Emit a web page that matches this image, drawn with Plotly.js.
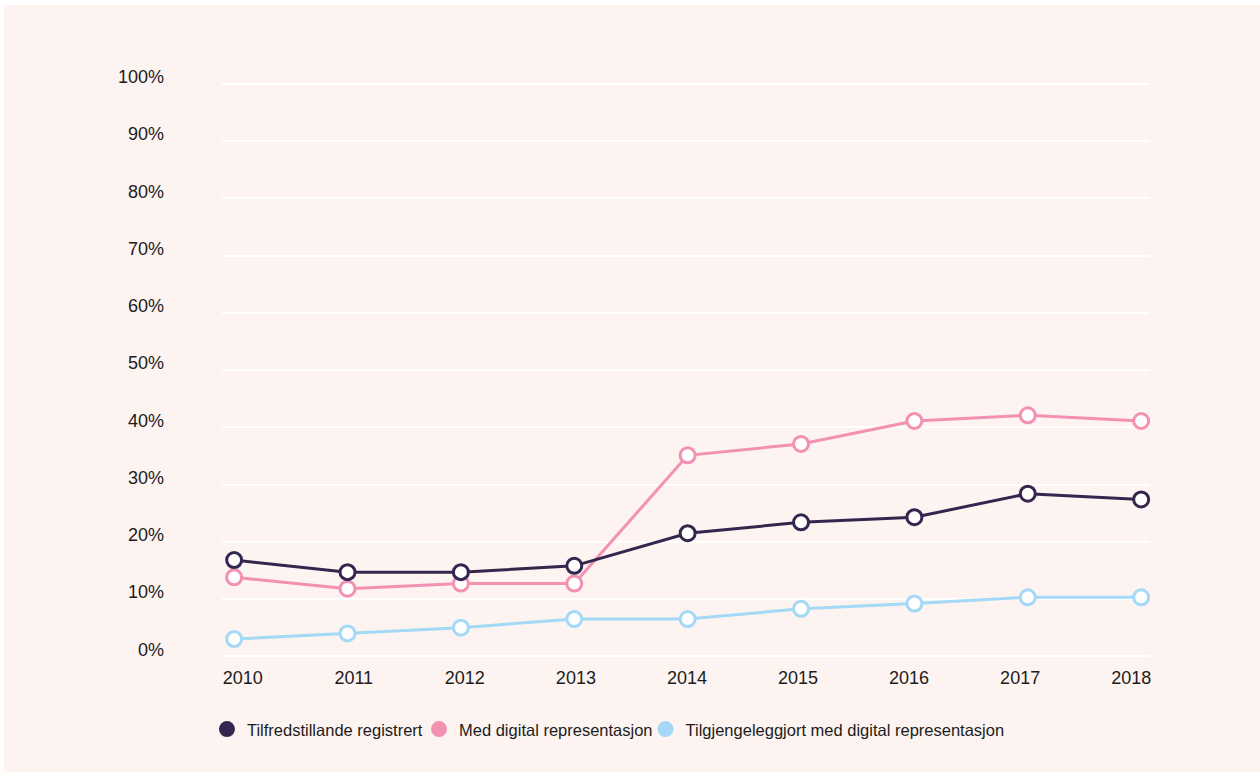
<!DOCTYPE html>
<html>
<head>
<meta charset="utf-8">
<script src="https://cdn.plot.ly/plotly-3.0.1.min.js"></script>
<style>
  html, body { margin: 0; padding: 0; background: #ffffff; }
  #chart { position: absolute; left: 4px; top: 5px; width: 1256px; height: 767px; }
</style>
</head>
<body>
<div id="chart"></div>
<script>
// Data
const years = [2010, 2011, 2012, 2013, 2014, 2015, 2016, 2017, 2018];
const tilfredstillande = [16.8, 14.7, 14.7, 15.8, 21.5, 23.4, 24.3, 28.4, 27.4];
const medDigital = [13.8, 11.8, 12.7, 12.7, 35.1, 37.1, 41.1, 42.1, 41.1];
const tilgjengeleggjort = [3.0, 4.0, 5.0, 6.5, 6.5, 8.3, 9.2, 10.3, 10.3];
const seriesNames = ['Tilfredstillande registrert', 'Med digital representasjon', 'Tilgjengeleggjort med digital representasjon'];
const yTickVals = [0, 10, 20, 30, 40, 50, 60, 70, 80, 90, 100];
const yTickText = ['0%', '10%', '20%', '30%', '40%', '50%', '60%', '70%', '80%', '90%', '100%'];

const colors = ['#33264f', '#f291b1', '#a3d9f7'];
const seriesData = [tilfredstillande, medDigital, tilgjengeleggjort];
const FONT = '"Liberation Sans", Arial, sans-serif';
const TXT = '#1c1c1c';

const traces = [];
// Draw order: light blue, pink, dark on top
[2, 1, 0].forEach(i => {
  traces.push({
    x: years, y: seriesData[i], type: 'scatter', mode: 'lines+markers',
    name: seriesNames[i], showlegend: false, cliponaxis: false,
    line: { color: colors[i], width: 3 },
    marker: { size: 15, color: '#ffffff', line: { color: colors[i], width: 3 } },
    hoverinfo: 'x+y'
  });
});
// Invisible trace carrying the year labels axis
traces.push({
  x: years, y: years.map(() => null), xaxis: 'x2', type: 'scatter', mode: 'markers',
  showlegend: false, hoverinfo: 'skip', marker: { opacity: 0 }
});
// Legend entries (filled circles), each in its own legend
const legendIds = ['legend', 'legend2', 'legend3'];
[0, 1, 2].forEach(i => {
  traces.push({
    x: [null], y: [null], type: 'scatter', mode: 'markers',
    name: seriesNames[i], showlegend: true, legend: legendIds[i],
    marker: { size: 16, color: colors[i] }
  });
});

const legendBase = (x) => ({
  orientation: 'h', x: x, xanchor: 'left', y: -0.116, yanchor: 'middle',
  font: { family: FONT, size: 16.5, color: TXT },
  bgcolor: 'rgba(0,0,0,0)', itemwidth: 30
});

const layout = {
  width: 1256, height: 767,
  paper_bgcolor: '#fdf3f0', plot_bgcolor: 'rgba(0,0,0,0)',
  margin: { l: 218, r: 110, t: 76, b: 110, pad: 0 },
  font: { family: FONT, color: TXT, size: 16 },
  xaxis: {
    range: [2009.893, 2018.078], showgrid: false, zeroline: false, showline: false,
    showticklabels: false, ticks: ''
  },
  xaxis2: {
    overlaying: 'x', anchor: 'y', side: 'bottom',
    range: [2009.8136, 2018.1693], showgrid: false, zeroline: false, showline: false,
    tickvals: years, ticktext: years.map(String), ticks: '',
    tickfont: { family: FONT, size: 18, color: TXT },
    ticklabelstandoff: 3
  },
  yaxis: {
    range: [-1, 100.5], showgrid: true, gridcolor: '#ffffff', gridwidth: 2,
    zeroline: false, showline: false, ticks: '',
    tickvals: yTickVals, ticktext: yTickText,
    tickfont: { family: FONT, size: 18, color: TXT },
    ticklabelstandoff: 57, ticklabelshift: -7
  },
  legend: legendBase(-0.0162),
  legend2: legendBase(0.2123),
  legend3: legendBase(0.4564),
  showlegend: true
};

Plotly.newPlot('chart', traces, layout, { displayModeBar: false, staticPlot: true });
</script>
</body>
</html>
